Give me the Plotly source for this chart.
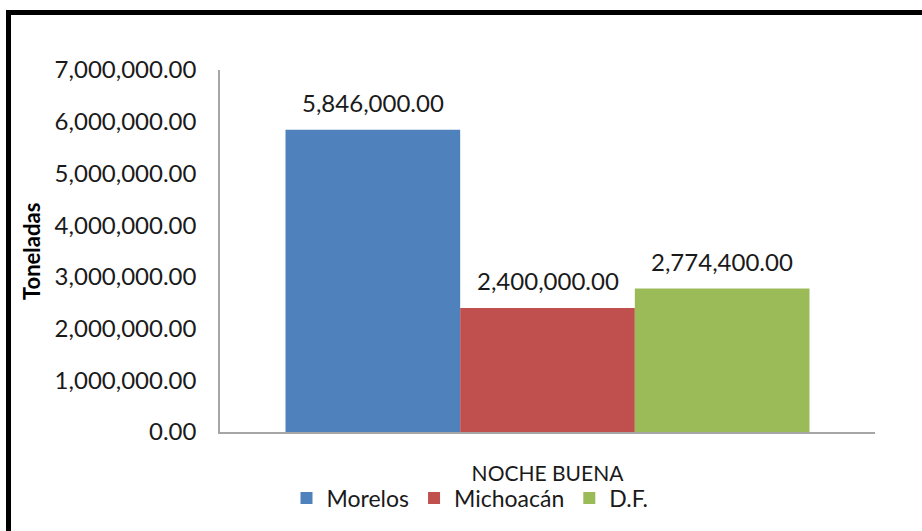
import plotly.graph_objects as go

# Production of "Noche Buena" by state (tonnes)
category = ["NOCHE BUENA"]
states = ["Morelos", "Michoacán", "D.F."]
tonnes = [5846000.00, 2400000.00, 2774400.00]
colors = ["#4F81BD", "#C0504D", "#9BBB59"]

y_ticks = [0, 1000000, 2000000, 3000000, 4000000, 5000000, 6000000, 7000000]

FONT = "Lato, 'Open Sans', sans-serif"
TEXT_COLOR = "#1a1a1a"
BARGAP = 0.2

W, H = 922, 531
L, R, T, B = 220, 47, 70, 99
plot_w = W - L - R
plot_h = H - T - B

fig = go.Figure()
for name, val, col in zip(states, tonnes, colors):
    fig.add_trace(go.Bar(
        x=category, y=[val], name=name,
        marker=dict(color=col, line=dict(width=0)),
    ))

# value labels above each bar, placed at the bar centres of the group
n = len(states)
bar_w = (1 - BARGAP) / n
for i, val in enumerate(tonnes):
    fig.add_annotation(
        x=(i - (n - 1) / 2) * bar_w, y=val, xref="x", yref="y",
        text=f"{val:,.2f}", showarrow=False,
        yanchor="bottom", yshift=11,
        font=dict(family=FONT, size=24, color=TEXT_COLOR),
    )

# rotated axis title
fig.add_annotation(
    x=(31 - L) / plot_w, y=0.5, xref="paper", yref="paper",
    text="<b>Toneladas</b>", textangle=-90, showarrow=False,
    xanchor="center", yanchor="middle",
    font=dict(family=FONT, size=22, color="#000000"),
)

# thick outer frame (runs past the right and bottom edges)
fig.add_shape(
    type="rect", xref="paper", yref="paper",
    x0=(8.5 - L) / plot_w, x1=1.3,
    y0=-0.6, y1=(H - B - 12.5) / plot_h,
    line=dict(color="#000000", width=5), fillcolor="rgba(0,0,0,0)",
    layer="above",
)

fig.update_layout(
    width=W, height=H,
    margin=dict(l=L, r=R, t=T, b=B, autoexpand=False),
    paper_bgcolor="#ffffff", plot_bgcolor="#ffffff",
    barmode="group", bargap=BARGAP, bargroupgap=0,
    font=dict(family=FONT, size=24, color=TEXT_COLOR),
    showlegend=True,
    legend=dict(
        orientation="h", x=(470 - L) / plot_w, xanchor="center",
        y=(H - B - 498) / plot_h, yanchor="middle",
        font=dict(family=FONT, size=23, color=TEXT_COLOR),
        traceorder="normal", itemwidth=30,
        bgcolor="rgba(0,0,0,0)",
    ),
    xaxis=dict(
        type="category", showgrid=False, zeroline=False,
        showline=True, linecolor="#a6a6a6", linewidth=2,
        ticks="", ticklabelstandoff=22,
        tickfont=dict(family=FONT, size=21, color=TEXT_COLOR),
    ),
    yaxis=dict(
        range=[0, 7000000], tickvals=y_ticks, tickformat=",.2f",
        showgrid=False, zeroline=False,
        showline=True, linecolor="#a6a6a6", linewidth=1.5,
        ticks="", ticklabelstandoff=17,
        tickfont=dict(family=FONT, size=24, color=TEXT_COLOR),
    ),
)

fig.write_html("out.html")
